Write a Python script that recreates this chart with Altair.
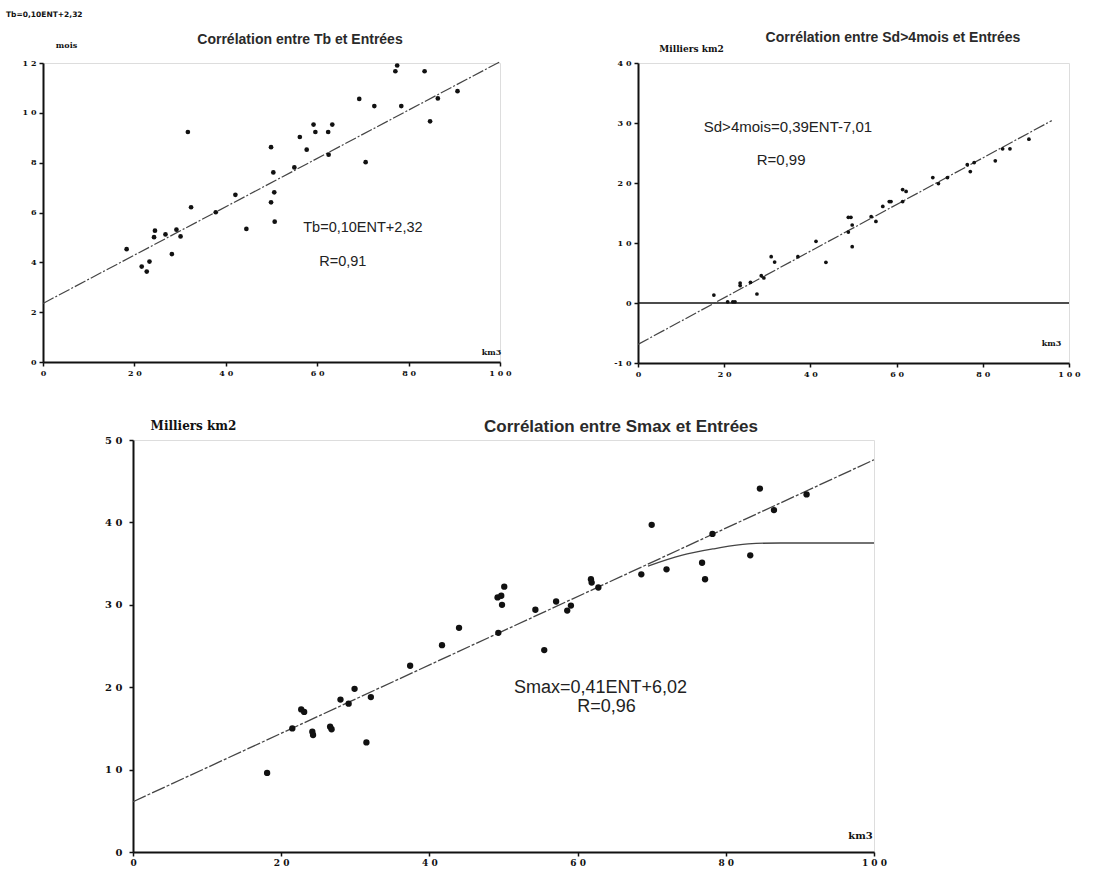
import altair as alt
import pandas as pd

# ---------------- data ----------------
# Panel 1 : Tb (mois) vs Entrées (km3)
entrees_tb = [18.3, 21.6, 22.7, 23.3, 24.5, 24.3, 26.8, 28.2, 29.2, 30.1,
              31.7, 32.4, 37.8, 42.1, 44.5, 49.9, 50.4, 49.9, 50.6, 50.7,
              55.0, 56.2, 57.7, 59.2, 59.6, 62.4, 63.3, 62.5, 69.2, 70.6,
              72.5, 77.1, 77.5, 78.4, 83.5, 84.7, 86.4, 90.7]
tb_mois = [4.53, 3.83, 3.63, 4.03, 5.27, 5.01, 5.12, 4.33, 5.31, 5.04,
           9.23, 6.21, 6.01, 6.71, 5.34, 8.62, 7.61, 6.41, 6.81, 5.63,
           7.81, 9.03, 8.52, 9.53, 9.23, 9.23, 9.53, 8.32, 10.56, 8.02,
           10.27, 11.67, 11.9, 10.27, 11.67, 9.66, 10.58, 10.87]
tb_fit_x = [0, 100]
tb_fit_y = [2.35, 12.05]

# Panel 2 : Sd>4mois (milliers km2) vs Entrées
entrees_sd = [17.6, 20.8, 22.0, 22.5, 23.7, 23.7, 26.1, 27.6, 28.6, 29.2,
              30.9, 31.7, 37.1, 41.3, 43.6, 48.8, 49.4, 48.8, 49.7, 49.7,
              54.1, 55.2, 56.8, 58.3, 58.7, 61.4, 62.2, 61.4, 68.4, 69.7,
              71.8, 76.4, 77.1, 78.0, 82.9, 84.6, 86.3, 90.7]
sd_km2 = [1.33, 0.2, 0.2, 0.2, 3.33, 2.9, 3.44, 1.5, 4.56, 4.17,
          7.72, 6.83, 7.72, 10.28, 6.78, 14.28, 14.28, 11.83, 13.0, 9.39,
          14.39, 13.6, 16.1, 16.9, 16.9, 18.9, 18.6, 16.9, 20.9, 19.9,
          20.9, 23.05, 21.9, 23.4, 23.7, 25.7, 25.7, 27.3]
sd_fit_x = [0, 96]
sd_fit_y = [-6.9, 30.4]
sd_zero_x = [0, 100]
sd_zero_y = [0, 0]

# Panel 3 : Smax (milliers km2) vs Entrées
entrees_smax = [18.1, 21.5, 22.7, 23.1, 24.2, 24.3, 26.6, 26.8, 28.0, 29.1,
                29.9, 31.5, 32.1, 37.4, 41.7, 44.0, 49.3, 49.2, 49.7, 49.8,
                50.1, 54.3, 55.5, 57.1, 58.6, 59.1, 61.8, 61.9, 62.8, 68.6,
                70.0, 72.0, 76.8, 77.2, 78.2, 83.3, 84.6, 86.5, 90.9]
smax_km2 = [9.6, 15.0, 17.3, 17.0, 14.6, 14.2, 15.2, 14.9, 18.5, 18.0,
            19.8, 13.3, 18.8, 22.6, 25.1, 27.2, 26.6, 30.9, 31.1, 30.0,
            32.2, 29.4, 24.5, 30.4, 29.3, 29.9, 33.1, 32.7, 32.1, 33.7,
            39.7, 34.3, 35.1, 33.1, 38.6, 36.0, 44.1, 41.5, 43.4]
smax_fit_x = [0, 100]
smax_fit_y = [6.1, 47.6]
smax_sat_x = [69.5, 74, 78.4, 83, 87.4, 100]
smax_sat_y = [34.7, 36.0, 36.8, 37.4, 37.5, 37.5]

# ticks
x_ticks = [0, 20, 40, 60, 80, 100]
tb_ticks = [0, 2, 4, 6, 8, 10, 12]
sd_ticks = [-10, 0, 10, 20, 30, 40]
smax_ticks = [0, 10, 20, 30, 40, 50]

# texts
title_tb = "Corrélation entre Tb et Entrées"
title_sd = "Corrélation entre Sd>4mois et Entrées"
title_smax = "Corrélation entre Smax et Entrées"
eq_tb, r_tb = "Tb=0,10ENT+2,32", "R=0,91"
eq_sd, r_sd = "Sd>4mois=0,39ENT-7,01", "R=0,99"
eq_smax, r_smax = "Smax=0,41ENT+6,02", "R=0,96"
unit_x = "km3"
unit_tb = "mois"
unit_km2 = "Milliers  km2"

# ---------------- helpers ----------------
SPACED = ("datum.value >= 100 ? '1 0 0' : (datum.value >= 10 ? floor(datum.value / 10) + ' ' + (datum.value % 10) : "
          "(datum.value <= -10 ? '-' + floor(-datum.value / 10) + ' ' + (-datum.value % 10) : datum.label))")
INK = "#111111"


def axis(values, title, tx, ty, lsize, tsize, lpad):
    return alt.Axis(values=values, labelExpr=SPACED, title=title, titleAngle=0,
                    titleX=tx, titleY=ty, titleAlign="center", titleBaseline="middle",
                    titleFont="DejaVu Serif", titleFontWeight="bold", titleFontSize=tsize,
                    titleColor=INK, labelFont="DejaVu Serif", labelFontWeight="bold",
                    labelFontSize=lsize, labelColor=INK, labelPadding=lpad,
                    labelFlush=False, labelOverlap=False, domainColor=INK, domainWidth=2,
                    tickColor=INK, tickWidth=1.5, tickSize=4, grid=False)


def text_layer(df, X, Y, size):
    return alt.Chart(df).mark_text(font="Liberation Sans", fontSize=size, color="#222222").encode(
        x=X, y=Y, text="t:N")


def title_layer(text, px, py, size):
    return alt.Chart(pd.DataFrame({"t": [text]})).mark_text(
        font="Liberation Sans", fontWeight="bold", fontSize=size, color="#2a2a2a",
        align="center", baseline="middle", x=px, y=py).encode(text="t:N")


# ---------------- panel 1 ----------------
W1, H1 = 457, 299
X1 = alt.X("x:Q", scale=alt.Scale(domain=[0, 100], nice=False, zero=False),
           axis=axis(x_ticks, unit_x, 448, -10, 8, 8, 3))
Y1 = alt.Y("y:Q", scale=alt.Scale(domain=[0, 12], nice=False, zero=False),
           axis=axis(tb_ticks, unit_tb, 23, -18, 8, 8, 3))
p1 = alt.layer(
    alt.Chart(pd.DataFrame({"x": tb_fit_x, "y": tb_fit_y})).mark_line(
        color="#444444", strokeWidth=1.2, strokeDash=[12, 2, 2, 2]).encode(x=X1, y=Y1),
    alt.Chart(pd.DataFrame({"x": entrees_tb, "y": tb_mois})).mark_circle(
        size=22, color=INK, opacity=1).encode(x=X1, y=Y1),
    text_layer(pd.DataFrame({"t": [eq_tb, r_tb], "x": [70.0, 65.6], "y": [5.36, 4.03]}), X1, Y1, 14.5),
    title_layer(title_tb, 257, -23, 14),
    alt.Chart(pd.DataFrame({"t": [eq_tb]})).mark_text(
        font="DejaVu Sans", fontWeight="bold", fontSize=7.5, color=INK,
        align="left", baseline="middle", x=-37, y=-48).encode(text="t:N"),
).properties(width=W1, height=H1)

# ---------------- panel 2 ----------------
W2, H2 = 431, 300
X2 = alt.X("x:Q", scale=alt.Scale(domain=[0, 100], nice=False, zero=False),
           axis=axis(x_ticks, unit_x, 413, -20, 8, 8, 3))
Y2 = alt.Y("y:Q", scale=alt.Scale(domain=[-10, 40], nice=False, zero=False),
           axis=axis(sd_ticks, unit_km2, 53, -15, 8, 9, 3))
p2 = alt.layer(
    alt.Chart(pd.DataFrame({"x": sd_zero_x, "y": sd_zero_y})).mark_line(
        color=INK, strokeWidth=1.5).encode(x=X2, y=Y2),
    alt.Chart(pd.DataFrame({"x": sd_fit_x, "y": sd_fit_y})).mark_line(
        color="#444444", strokeWidth=1.2, strokeDash=[12, 2, 2, 2]).encode(x=X2, y=Y2),
    alt.Chart(pd.DataFrame({"x": entrees_sd, "y": sd_km2})).mark_circle(
        size=14, color=INK, opacity=1).encode(x=X2, y=Y2),
    text_layer(pd.DataFrame({"t": [eq_sd, r_sd], "x": [34.8, 33.2], "y": [29.4, 23.9]}), X2, Y2, 15),
    title_layer(title_sd, 255, -25, 14),
).properties(width=W2, height=H2)

# ---------------- panel 3 ----------------
W3, H3 = 741, 412
X3 = alt.X("x:Q", scale=alt.Scale(domain=[0, 100], nice=False, zero=False),
           axis=axis(x_ticks, unit_x, 727, -17, 9, 10, 2))
Y3 = alt.Y("y:Q", scale=alt.Scale(domain=[0, 50], nice=False, zero=False),
           axis=axis(smax_ticks, unit_km2, 60, -15, 10, 12, 7))
p3 = alt.layer(
    alt.Chart(pd.DataFrame({"x": smax_fit_x, "y": smax_fit_y})).mark_line(
        color="#444444", strokeWidth=1.3, strokeDash=[14, 2, 3, 2]).encode(x=X3, y=Y3),
    alt.Chart(pd.DataFrame({"x": smax_sat_x, "y": smax_sat_y})).mark_line(
        color="#444444", strokeWidth=1.3, interpolate="monotone").encode(x=X3, y=Y3),
    alt.Chart(pd.DataFrame({"x": entrees_smax, "y": smax_km2})).mark_circle(
        size=40, color=INK, opacity=1).encode(x=X3, y=Y3),
    text_layer(pd.DataFrame({"t": [eq_smax, r_smax], "x": [63.1, 63.9], "y": [19.9, 17.6]}), X3, Y3, 18),
    title_layer(title_smax, 488, -13, 17),
).properties(width=W3, height=H3)

# invisible spacer that shifts the bottom panel to the right
spacer = alt.Chart(pd.DataFrame({"t": [""]})).mark_text(opacity=0).encode(
    text="t:N").properties(width=90, height=1,
                           view=alt.ViewBackground(stroke="transparent", strokeWidth=0, fill="transparent"))

top = alt.hconcat(p1, p2, spacing=138, bounds="flush")
bottom = alt.hconcat(spacer, p3, spacing=0, bounds="flush")
# the nested top row counts as zero height in a flush layout, so the spacing
# includes the 300 px of the top row
chart = alt.vconcat(top, bottom, spacing=377, bounds="flush").properties(
    padding={"left": 5, "top": 10, "right": 5, "bottom": 2}
).configure_view(stroke="transparent", strokeWidth=0, fill="transparent").configure(background="white")

chart.save("out.html", embed_options={"renderer": "svg", "actions": False})
